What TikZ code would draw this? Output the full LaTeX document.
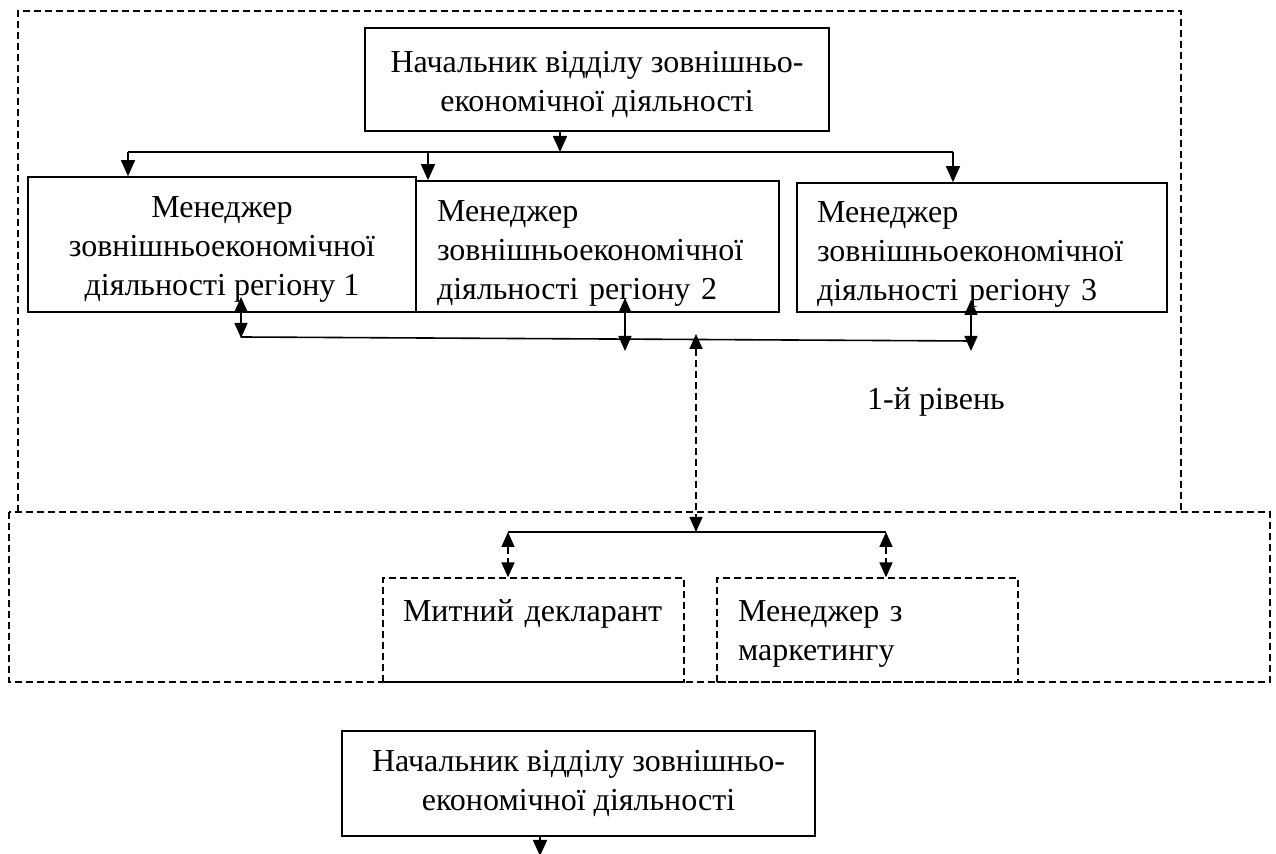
\documentclass[tikz,border=0pt]{standalone}
\usepackage{fontspec}
\setmainfont{Liberation Serif}
\usetikzlibrary{arrows.meta}
\newcommand{\topgap}[1]{\rule{0pt}{#1}}
\begin{document}
\begin{tikzpicture}[x=0.5pt,y=-0.5pt,
  font=\fontsize{16}{19.5}\selectfont,
  box/.style={draw, line width=0.8pt, inner ysep=0pt, align=center},
  dbox/.style={draw, line width=0.65pt, dash pattern=on 3.5pt off 2pt, inner ysep=0pt, align=left},
  frame/.style={line width=0.65pt, dash pattern=on 3.5pt off 2pt},
  wire/.style={line width=0.8pt},
  arr/.style={-{Triangle[length=8pt,width=7pt]}, line width=0.8pt},
  darr/.style={{Triangle[length=7.5pt,width=6.5pt]}-{Triangle[length=7.5pt,width=6.5pt]}, line width=0.8pt},
  dashedline/.style={dash pattern=on 3.5pt off 2pt}
]
\useasboundingbox (0,0) rectangle (1276,854);
\fill[white] (0,0) rectangle (1276,854);
\clip (0,0) rectangle (1276,854);

% dashed frames
\draw[frame] (18,512) -- (18,11) -- (1181,11) -- (1181,512);
\draw[frame] (9,512) rectangle (1270,682);

% nodes
\node[box, minimum width=232pt, minimum height=51.5pt] (top) at (597,79.5)
  {\topgap{16pt}Начальник відділу зовнішньо-\\економічної діяльності};
\node[box, minimum width=194pt, minimum height=67.5pt] (m1) at (222,244.5)
  {\topgap{15pt}Менеджер\\зовнішньоекономічної\\діяльності регіону 1};
\node[box, align=left, inner xsep=10.5pt, text width=160.5pt, minimum height=65.5pt] (m2) at (597.5,246.5)
  {\topgap{17.5pt}Менеджер\\зовнішньоекономічної\\діяльності регіону 2};
\node[box, align=left, inner xsep=10pt, text width=165pt, minimum height=64.5pt] (m3) at (982,247.5)
  {\topgap{17.5pt}Менеджер\\зовнішньоекономічної\\діяльності регіону 3};
\node[anchor=base] (lvl) at (936,410) {1-й рівень};
\node[dbox, inner xsep=10pt, text width=130.5pt, minimum height=52pt] (decl) at (533.5,630)
  {Митний декларант\\\mbox{}};
\node[dbox, inner xsep=10.5pt, text width=129.5pt, minimum height=52pt] (mark) at (867.5,630)
  {\topgap{14pt}Менеджер з\\маркетингу};
\node[box, minimum width=236.5pt, minimum height=52.5pt] (bot) at (578.5,783.5)
  {Начальник відділу зовнішньо-\\економічної діяльності};

% upper bus
\coordinate (b0) at (560,152);
\coordinate (bL) at (128,152);
\coordinate (bM) at (428,152);
\coordinate (bR) at (953,152);
\draw[arr] (top.south -| b0) -- (b0);
\draw[wire] (bL) -- (bR);
\draw[arr] (bL) -- (bL |- m1.north);
\draw[arr] (bM) -- (bM |- m2.north);
\draw[arr] (bR) -- (bR |- m3.north);

% middle bus
\coordinate (u1) at (241,297); \coordinate (d1) at (241,338);
\coordinate (u2) at (625,298); \coordinate (d2) at (625,351);
\coordinate (u3) at (971,300); \coordinate (d3) at (971,351);
\draw[wire] (241,337) -- (971,341);
\draw[darr] (u1) -- (d1);
\draw[darr] (u2) -- (d2);
\draw[darr] (u3) -- (d3);

% dashed link to the second level
\coordinate (v1) at (696,334);
\coordinate (v2) at (696,532);
\draw[darr, dashedline] (v1) -- (v2);

% lower bus
\coordinate (l1) at (508,532);
\coordinate (l2) at (886,532);
\draw[wire] (l1) -- (l2);
\draw[darr, dashedline] (l1) -- (l1 |- decl.north);
\draw[darr, dashedline] (l2) -- (l2 |- mark.north);

% bottom arrow
\coordinate (bend) at (540,856);
\draw[arr] (bot.south -| bend) -- (bend);
\end{tikzpicture}
\end{document}
